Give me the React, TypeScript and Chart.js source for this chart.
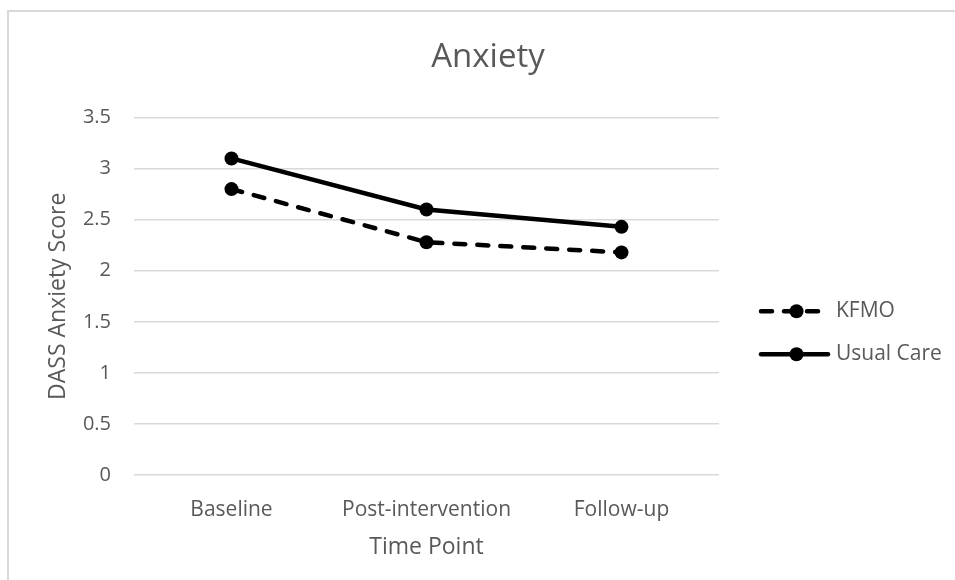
import React, { useEffect, useRef } from "react";
import { Chart, registerables } from "chart.js";

Chart.register(...registerables);

const categories = ["Baseline", "Post-intervention", "Follow-up"];
const kfmo = [2.8, 2.28, 2.18];
const usualCare = [3.1, 2.6, 2.43];
const seriesNames = ["KFMO", "Usual Care"];
const chartTitle = "Anxiety";
const xTitle = "Time Point";
const yTitle = "DASS Anxiety Score";

const FONT = "'Open Sans', sans-serif";
const TEXT = "#595959";

const legendPlugin = {
  id: "customLegend",
  afterDraw(chart: any) {
    const { ctx, chartArea } = chart;
    const cy = (chartArea.top + chartArea.bottom) / 2;
    const x0 = chartArea.right + 40;
    const x1 = x0 + 71;
    const mx = (x0 + x1) / 2 + 2;
    chart.data.datasets.forEach((ds: any, i: number) => {
      const y = cy + 15 + i * 43;
      ctx.save();
      ctx.strokeStyle = ds.borderColor;
      ctx.lineWidth = ds.borderWidth;
      ctx.lineCap = "round";
      ctx.setLineDash(ds.borderDash || []);
      ctx.beginPath();
      ctx.moveTo(x0 + 2, y);
      ctx.lineTo(x1 - 2, y);
      ctx.stroke();
      ctx.setLineDash([]);
      ctx.fillStyle = ds.pointBackgroundColor;
      ctx.beginPath();
      ctx.arc(mx, y, ds.pointRadius, 0, Math.PI * 2);
      ctx.fill();
      ctx.fillStyle = TEXT;
      ctx.font = `21px ${FONT}`;
      ctx.textBaseline = "middle";
      ctx.textAlign = "left";
      ctx.fillText(ds.label, x1 + 6, y);
      ctx.restore();
    });
  },
};

export default function App() {
  const ref = useRef<HTMLCanvasElement>(null);
  useEffect(() => {
    if (!ref.current) return;
    const chart = new Chart(ref.current, {
      type: "line",
      data: {
        labels: categories,
        datasets: [
          {
            label: seriesNames[0],
            data: kfmo,
            borderColor: "#000",
            backgroundColor: "#000",
            pointBackgroundColor: "#000",
            pointBorderColor: "#000",
            borderWidth: 4.5,
            borderDash: [11, 12],
            borderCapStyle: "round",
            pointRadius: 7,
            pointBorderWidth: 0,
            tension: 0,
          },
          {
            label: seriesNames[1],
            data: usualCare,
            borderColor: "#000",
            backgroundColor: "#000",
            pointBackgroundColor: "#000",
            pointBorderColor: "#000",
            borderWidth: 4.5,
            borderCapStyle: "round",
            pointRadius: 7,
            pointBorderWidth: 0,
            tension: 0,
          },
        ],
      },
      options: {
        responsive: false,
        animation: false,
        devicePixelRatio: 1,
        layout: { padding: { left: 0, right: 0, top: 0, bottom: 0 } },
        plugins: {
          legend: { display: false },
          tooltip: { enabled: false },
          title: {
            display: true,
            text: chartTitle,
            color: TEXT,
            font: { family: FONT, size: 33, weight: "normal" },
            padding: { top: 38, bottom: 40 },
          },
        },
        scales: {
          x: {
            offset: true,
            grid: { display: false, drawTicks: false },
            border: { display: false },
            ticks: { color: TEXT, font: { family: FONT, size: 21 }, padding: 22, maxRotation: 0 },
            title: {
              display: true,
              text: xTitle,
              color: TEXT,
              font: { family: FONT, size: 23 },
              padding: { top: 12, bottom: 19 },
            },
            afterFit: (s: any) => {
              s.height = 105;
            },
          },
          y: {
            min: 0,
            max: 3.5,
            grid: { color: "#d9d9d9", lineWidth: 1.5, drawTicks: false },
            border: { display: false },
            ticks: {
              stepSize: 0.5,
              color: TEXT,
              font: { family: FONT, size: 20 },
              padding: 23,
              callback: (v: any) => String(v),
            },
            title: {
              display: true,
              text: yTitle,
              color: TEXT,
              font: { family: FONT, size: 23 },
              padding: { top: 45, bottom: 0 },
            },
            afterFit: (s: any) => {
              s.width = 134;
            },
          },
          yRight: {
            position: "right",
            display: true,
            min: 0,
            max: 3.5,
            grid: { display: false, drawTicks: false },
            border: { display: false },
            ticks: { display: false },
            afterFit: (s: any) => {
              s.width = 257;
            },
          },
        },
      },
      plugins: [legendPlugin],
    });
    return () => chart.destroy();
  }, []);
  return (
    <div>
      <div
        style={{
          position: "fixed",
          left: 7,
          top: 10,
          width: 1000,
          height: 1000,
          border: "2px solid #d9d9d9",
          boxSizing: "border-box",
        }}
      />
      <canvas
        ref={ref}
        width={976}
        height={580}
        style={{ position: "fixed", left: 0, top: 0, width: 976, height: 580 }}
      />
    </div>
  );
}
